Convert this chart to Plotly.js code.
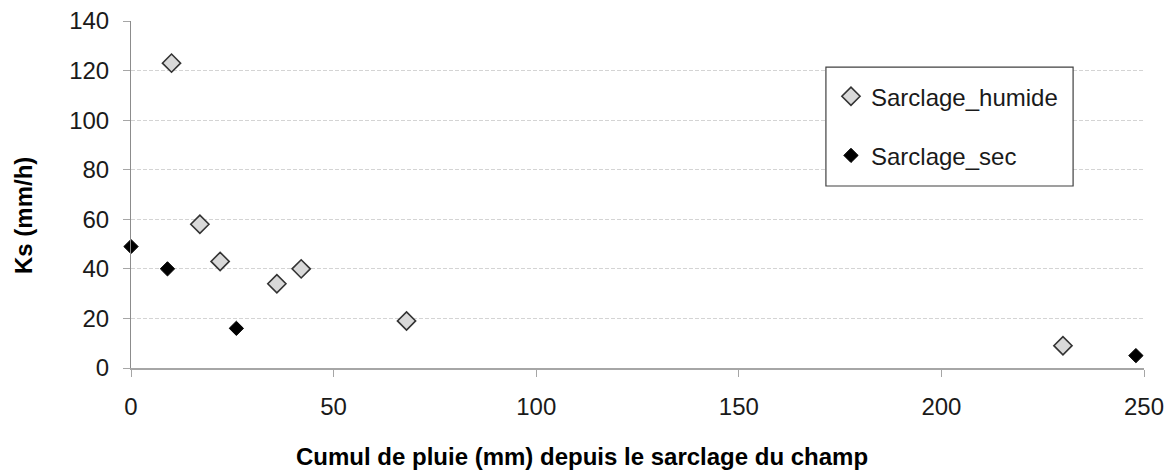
<!DOCTYPE html>
<html>
<head>
<meta charset="utf-8">
<script src="https://cdn.plot.ly/plotly-3.0.1.min.js"></script>
<style>html,body{margin:0;padding:0;background:#fff;}#chart{width:1173px;height:471px;}</style>
</head>
<body>
<div id="chart"></div>
<script>
// Data
const humideName = "Sarclage_humide";
const humideX = [10, 17, 22, 36, 42, 68, 230];
const humideY = [123, 58, 43, 34, 40, 19, 9];

const secName = "Sarclage_sec";
const secX = [0, 9, 26, 248];
const secY = [49, 40, 16, 5];

const xTickVals = [0, 50, 100, 150, 200, 250];
const yTickVals = [0, 20, 40, 60, 80, 100, 120, 140];

const xTitle = "Cumul de pluie (mm) depuis le sarclage du champ";
const yTitle = "Ks (mm/h)";

const FONT = '"Liberation Sans", Arial, sans-serif';
const FS = 24;

const traces = [
  {
    type: 'scatter', mode: 'markers', name: humideName,
    x: humideX, y: humideY, cliponaxis: false, legendgroup: 'a',
    marker: {symbol: 'diamond', size: 14, color: '#d9d9d9', line: {color: '#333333', width: 1.6}}
  },
  {
    type: 'scatter', mode: 'markers', name: secName,
    x: secX, y: secY, cliponaxis: false, legendgroup: 'b',
    marker: {symbol: 'diamond', size: 11, color: '#000000', line: {color: '#000000', width: 1}}
  }
];

const layout = {
  width: 1173, height: 471,
  margin: {l: 131, r: 29, t: 21, b: 103},
  paper_bgcolor: '#ffffff', plot_bgcolor: '#ffffff',
  font: {family: FONT, size: FS, color: '#1a1a1a'},
  showlegend: true,
  legend: {
    x: 0.691, y: 0.847, xanchor: 'left', yanchor: 'top',
    bgcolor: 'rgba(0,0,0,0)', borderwidth: 0,
    font: {family: FONT, size: FS, color: '#1a1a1a'},
    tracegroupgap: 25, itemsizing: 'trace'
  },
  shapes: [
    {type: 'rect', xref: 'paper', yref: 'paper', x0: 0.686, x1: 0.930, y0: 0.5245, y1: 0.867,
     fillcolor: '#ffffff', line: {color: '#404040', width: 1.2}, layer: 'above'}
  ],
  xaxis: {
    range: [0, 250], tickvals: xTickVals, ticktext: xTickVals.map(String),
    showgrid: false, zeroline: false,
    showline: true, linecolor: '#a6a6a6', linewidth: 1.5,
    ticks: 'outside', ticklen: 7, tickcolor: '#a6a6a6', ticklabelstandoff: 10,
    tickfont: {family: FONT, size: FS, color: '#1a1a1a'}, fixedrange: true
  },
  yaxis: {
    range: [0, 140], tickvals: yTickVals, ticktext: yTickVals.map(String),
    showgrid: true, gridcolor: '#d4d4d4', griddash: '4px,2px', gridwidth: 1,
    zeroline: false,
    showline: true, linecolor: '#8c8c8c', linewidth: 1,
    ticks: 'outside', ticklen: 7, tickcolor: '#a6a6a6', ticklabelstandoff: 9,
    tickfont: {family: FONT, size: FS, color: '#1a1a1a'}, fixedrange: true
  },
  annotations: [
    {text: '<b>' + xTitle + '</b>', xref: 'paper', yref: 'paper', x: 0.445, y: -0.256,
     xanchor: 'center', yanchor: 'middle', showarrow: false,
     font: {family: FONT, size: FS, color: '#000000'}},
    {text: '<b>' + yTitle + '</b>', xref: 'paper', yref: 'paper', x: -0.1066, y: 0.438,
     xanchor: 'center', yanchor: 'middle', textangle: -90, showarrow: false,
     font: {family: FONT, size: FS, color: '#000000'}}
  ]
};

Plotly.newPlot('chart', traces, layout, {displayModeBar: false, staticPlot: true});
</script>
</body>
</html>
